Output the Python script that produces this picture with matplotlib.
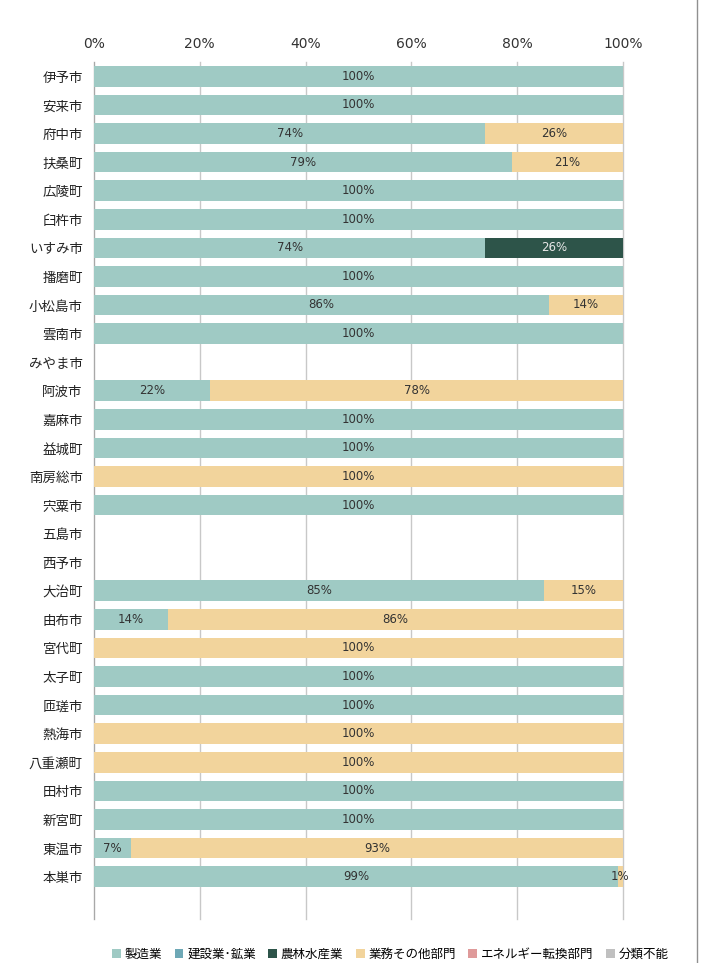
import matplotlib.pyplot as plt
from matplotlib.lines import Line2D
import numpy as np

plt.rcParams['font.family'] = ['Noto Sans CJK JP', 'DejaVu Sans']
num_font = ['DejaVu Sans', 'Noto Sans CJK JP']

cities = ["伊予市", "安来市", "府中市", "扶桑町", "広陵町", "臼杵市", "いすみ市", "播磨町",
          "小松島市", "雲南市", "みやま市", "阿波市", "嘉麻市", "益城町", "南房総市", "宍粟市",
          "五島市", "西予市", "大治町", "由布市", "宮代町", "太子町", "匝瑳市", "熱海市",
          "八重瀬町", "田村市", "新宮町", "東温市", "本巣市"]

sectors = ["製造業", "建設業･鉱業", "農林水産業", "業務その他部門", "エネルギー転換部門", "分類不能"]
colors = ["#9fcac4", "#6ea8b6", "#2d5449", "#f2d49c", "#df9a9a", "#c0c0c0"]

manufacturing = [100, 100, 74, 79, 100, 100, 74, 100, 86, 100, 0, 22, 100, 100, 0, 100,
                 0, 0, 85, 14, 0, 100, 100, 0, 0, 100, 100, 7, 99]
construction = [0] * 29
agriculture = [0, 0, 0, 0, 0, 0, 26, 0, 0, 0, 0, 0, 0, 0, 0, 0,
               0, 0, 0, 0, 0, 0, 0, 0, 0, 0, 0, 0, 0]
business = [0, 0, 26, 21, 0, 0, 0, 0, 14, 0, 0, 78, 0, 0, 100, 0,
            0, 0, 15, 86, 100, 0, 0, 100, 100, 0, 0, 93, 1]
energy = [0] * 29
unknown = [0] * 29

series = [manufacturing, construction, agriculture, business, energy, unknown]

fig = plt.figure(figsize=(7.02, 9.63), dpi=100)
ax = fig.add_axes([0.1339, 0.0452, 0.7536, 0.8904])

y = np.arange(len(cities))
left = np.zeros(len(cities))
for name, vals, col in zip(sectors, series, colors):
    vals = np.array(vals, dtype=float)
    bars = ax.barh(y, vals, left=left, height=0.72, color=col, label=name, zorder=3)
    labels = [f"{v:.0f}%" if v > 0 else "" for v in vals]
    tc = "#e8e8e8" if name == "農林水産業" else "#333333"
    ax.bar_label(bars, labels=labels, label_type="center", fontsize=8.5, color=tc,
                 family=num_font)
    left += vals

ax.set_xlim(0, 100)
ax.set_ylim(len(cities) + 0.5, -0.5)
ax.set_yticks(y)
ax.set_yticklabels(cities, fontsize=9.7, color="#222222")
ax.set_xticks([0, 20, 40, 60, 80, 100])
ax.set_xticklabels(["0%", "20%", "40%", "60%", "80%", "100%"], fontsize=10,
                   color="#333333", family=num_font)
ax.xaxis.tick_top()
ax.tick_params(length=0, pad=8)
ax.tick_params(axis="y", pad=8)
ax.grid(axis="x", color="#c8c8c8", lw=1, zorder=0)
for g in ax.get_xgridlines():
    g.set_clip_on(False)
for s in ["top", "right", "bottom"]:
    ax.spines[s].set_visible(False)
ax.spines["left"].set_color("#a8a8a8")

fig.legend(loc="center", bbox_to_anchor=(0.556, 0.009), ncol=6, frameon=False,
           fontsize=9, handlelength=0.7, handleheight=0.7, handletextpad=0.3,
           columnspacing=1.0)

fig.add_artist(Line2D([0.9929, 0.9929], [0, 1], color="#909090", lw=1))

fig.savefig("out.png", dpi=100)
